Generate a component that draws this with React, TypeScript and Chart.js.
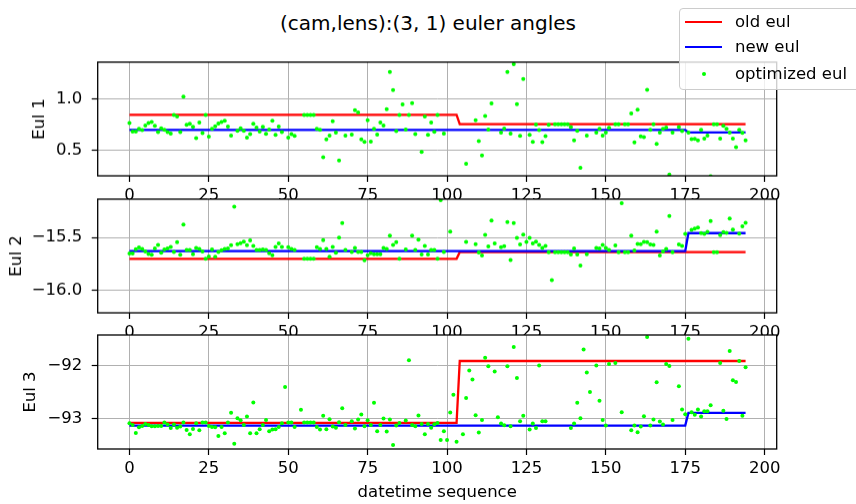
import React, { useEffect, useRef } from 'react';
import { Chart, registerables } from 'chart.js';
Chart.register(...registerables);

const FONT = 'DejaVu Sans';
const TICK_SIZE = 16.5;

const X_TICKS = [0, 25, 50, 75, 100, 125, 150, 175, 200];
const X_MIN = -10;
const X_MAX = 203.8;

// old / new euler step lines (breakpoints)
const OLD1_X = [0, 103, 104, 194];
const OLD1_Y = [0.845, 0.845, 0.755, 0.755];
const NEW1_X = [0, 175, 176, 194];
const NEW1_Y = [0.70, 0.70, 0.674, 0.674];
const OLD2_X = [0, 103, 104, 194];
const OLD2_Y = [-15.701, -15.701, -15.638, -15.638];
const NEW2_X = [0, 175, 176, 194];
const NEW2_Y = [-15.628, -15.628, -15.458, -15.458];
const OLD3_X = [0, 103, 104, 194];
const OLD3_Y = [-93.088, -93.088, -91.92, -91.92];
const NEW3_X = [0, 175, 176, 194];
const NEW3_Y = [-93.138, -93.138, -92.90, -92.90];

// optimized euler angles, index 0..194 (null = not visible in the picture)
const OPT1 = [
  0.765, 0.684, 0.684, 0.71, 0.697, 0.742, 0.765, 0.775, 0.74, 0.678,
  0.716, 0.70, 0.678, 0.665, 0.845, 0.829, 0.678, 1.022, 0.748, 0.758,
  0.729, 0.62, 0.771, 0.668, 0.845, 0.635, 0.71, 0.735, 0.761, 0.775,
  0.787, 0.732, 0.645, null, 0.69, 0.716, 0.69, 0.626, 0.658, 0.758,
  0.723, 0.684, 0.729, 0.661, 0.703, 0.787, 0.652, 0.732, 0.678, null,
  0.626, 0.658, 0.642, null, null, 0.845, 0.845, 0.845, 0.845, 0.71,
  0.70, 0.436, 0.607, 0.645, 0.784, 0.674, 0.403, null, 0.645, null,
  0.655, 0.89, 0.868, 0.607, 0.584, 0.794, 0.587, 0.71, 0.655, 0.771,
  0.742, 0.90, 1.261, 1.084, 0.687, 0.845, 0.945, 0.703, 0.845, 0.958,
  0.658, null, 0.487, 0.829, 0.652, 0.771, 0.681, 0.845, null, 0.665,
  null, null, null, null, null, null, 0.371, null, null, 0.794,
  0.59, 0.452, 0.835, 0.703, 0.955, null, null, 0.674, 0.713, 1.261,
  0.665, 1.336, 0.948, 0.642, 1.193, null, 0.652, 0.584, 0.752, 0.697,
  0.58, 0.639, 0.748, null, 0.755, 0.755, 0.755, 0.755, 0.755, 0.726,
  0.597, 0.69, 0.333, null, 0.645, null, null, 0.674, 0.71, 0.645,
  0.674, 0.72, null, 0.755, 0.755, null, 0.755, 0.755, 0.858, 0.578,
  0.894, 0.636, 0.629, 1.087, 0.70, 0.755, 0.565, 0.674, 0.71, 0.723,
  0.268, 0.674, null, 0.726, 0.687, null, 0.674, 0.61, 0.613, 0.597,
  0.70, 0.616, 0.645, 0.249, 0.755, 0.755, 0.616, 0.739, 0.71, 0.674,
  0.616, 0.533, 0.70, 0.671, 0.597,
];

const OPT2 = [
  -15.651, -15.651, -15.61, -15.594, -15.607, -15.632, -15.654, -15.663, -15.604, -15.569,
  -15.644, -15.613, -15.604, -15.588, -15.635, -15.544, -15.663, -15.377, -15.616, -15.616,
  -15.657, -15.597, -15.607, -15.632, -15.701, -15.679, -15.613, -15.682, -15.635, -15.619,
  -15.607, -15.604, -15.572, -15.208, -15.563, -15.553, -15.538, -15.572, -15.528, -15.579,
  -15.616, -15.616, -15.613, -15.616, -15.648, -15.666, -15.588, -15.556, -15.588, null,
  -15.591, -15.607, -15.616, null, null, -15.701, -15.701, -15.701, -15.701, -15.591,
  -15.607, -15.525, -15.607, -15.682, -15.588, -15.644, -15.50, -15.364, -15.616, null,
  -15.635, -15.597, -15.635, -15.635, -15.714, -15.666, -15.648, -15.657, -15.657, -15.657,
  -15.597, -15.607, -15.481, -15.569, -15.544, -15.701, null, -15.613, null, -15.481,
  -15.616, -15.519, -15.66, -15.579, -15.66, -15.616, -15.616, -15.701, -15.147, -15.635,
  null, -15.443, null, null, null, null, -15.541, null, null, -15.563,
  -15.641, -15.67, -15.475, -15.585, -15.34, -15.556, null, -15.591, -15.582, -15.353,
  -15.711, -15.364, -15.503, -15.566, -15.472, -15.541, -15.503, -15.556, -15.538, -15.569,
  -15.597, -15.579, -15.638, -15.902, -15.638, -15.638, -15.638, -15.638, -15.638, -15.66,
  -15.604, -15.66, -15.764, null, -15.657, null, null, -15.597, -15.604, -15.569,
  -15.597, -15.616, null, -15.575, -15.638, -15.175, -15.638, -15.638, -15.481, -15.622,
  -15.56, -15.563, -15.541, -15.544, -15.566, -15.569, -15.443, -15.67, -15.632, -15.607,
  -15.298, -15.638, null, -15.566, -15.579, -15.465, null, -15.427, -15.415, -15.405,
  -15.459, -15.465, -15.446, -15.345, -15.638, -15.638, -15.478, -15.449, -15.456, -15.321,
  -15.424, null, -15.462, -15.393, -15.361,
];

const OPT3 = [
  -93.094, -93.126, -93.277, -93.17, -93.145, -93.107, -93.126, -93.151, -93.151, -93.145,
  -93.145, -93.082, -93.12, -93.183, -93.12, -93.177, -93.157, -93.082, -93.221, -93.303,
  -93.202, -93.094, -93.227, -93.082, -93.082, -93.145, -93.164, -93.17, -93.334, -93.164,
  -93.283, -93.082, -92.898, -93.48, -93.0, -93.038, -93.126, -92.968, -93.283, -92.702,
  -93.283, -93.208, -93.126, -93.032, -93.246, -93.214, -93.208, -93.164, -93.094, -92.411,
  -93.082, -93.082, -93.164, null, -92.841, -93.082, -93.082, -93.082, -93.082, -93.164,
  -93.214, -92.955, -93.208, -93.019, -93.157, -93.177, -93.075, -92.81, -93.126, null,
  -93.057, -93.195, -93.025, -92.93, -93.151, -93.038, -93.126, -92.708, -93.246, -93.126,
  -93.006, -93.252, -93.025, -93.505, -93.138, -93.088, null, -93.044, -91.905, -93.126,
  -93.151, -92.949, -93.107, -93.303, -93.107, -93.177, -93.113, -93.088, -93.41, -93.246,
  -93.41, -92.892, -92.556, -93.442, null, -93.303, -92.62, -92.101, -92.271, -92.943,
  -93.27, -93.032, -91.861, -92.019, null, -92.12, -92.981, -93.101, -93.132, -92.019,
  -93.151, -91.658, -92.24, -93.057, -92.955, null, -93.214, -93.101, -93.183, -92.006,
  -93.057, -93.057, null, null, null, null, null, null, null, -93.183,
  -93.101, -92.708, -93.0, -91.702, -92.139, -92.506, null, -92.006, -92.67, -93.032,
  -93.138, -91.975, null, -91.956, null, -92.885, null, null, -93.227, -93.138,
  -93.265, -93.157, -92.961, -91.469, -93.138, -93.025, -92.323, -93.063, -93.12, -91.975,
  -92.013, -93.032, null, -92.398, -92.835, -92.924, -91.50, -92.885, -92.936, -92.835,
  -92.968, -92.866, -92.866, -92.753, null, null, -91.956, -92.86, -93.013, -91.734,
  -92.284, -92.316, -91.918, -92.955, -92.038,
];

const Y1_TICKS = [0.5, 1.0];
const Y2_TICKS = [-16.0, -15.5];
const Y3_TICKS = [-93, -92];

const AXES_LEFT = 97.7;
const AXES_RIGHT = 776.7;
const CANVAS_W = 800;
const PAD_T = 20;

const boxPlugin = {
  id: 'axbox',
  beforeDraw(chart: any) {
    const { ctx, chartArea: a } = chart;
    ctx.save();
    ctx.fillStyle = '#ffffff';
    ctx.fillRect(a.left, a.top, a.right - a.left, a.bottom - a.top);
    ctx.restore();
  },
  afterDatasetsDraw(chart: any) {
    const { ctx, chartArea: a } = chart;
    ctx.save();
    ctx.strokeStyle = '#000000';
    ctx.lineWidth = 1.3;
    ctx.strokeRect(a.left, a.top, a.right - a.left, a.bottom - a.top);
    ctx.restore();
  },
};

type PanelProps = {
  opt: (number | null)[];
  oldX: number[];
  oldY: number[];
  newX: number[];
  newY: number[];
  yMin: number;
  yMax: number;
  yTicks: number[];
  yDec: number;
  yLabel: string;
  yLabelPad: number;
  axTop: number;
  axH: number;
  xAxisH: number;
  xTitle?: string;
};

function fmt(v: number, dec: number) {
  const s = Math.abs(v).toFixed(dec);
  return v < 0 ? '\u2212' + s : s;
}

function Panel(p: PanelProps) {
  const ref = useRef<HTMLCanvasElement | null>(null);
  const H = PAD_T + p.axH + p.xAxisH;
  useEffect(() => {
    if (!ref.current) return;
    const tickFont = { family: FONT, size: TICK_SIZE };
    const chart = new Chart(ref.current, {
      type: 'line',
      data: {
        datasets: [
          {
            label: 'optimized eul',
            data: p.opt.map((y, i) => ({ x: i, y })),
            showLine: false,
            pointRadius: 2.0,
            pointBackgroundColor: '#00ff00',
            pointBorderWidth: 0,
            borderColor: '#00ff00',
            order: 0,
          },
          {
            label: 'new eul',
            data: p.newX.map((x, i) => ({ x, y: p.newY[i] })),
            borderColor: '#0000ff',
            borderWidth: 2.3,
            pointRadius: 0,
            tension: 0,
            order: 1,
          },
          {
            label: 'old eul',
            data: p.oldX.map((x, i) => ({ x, y: p.oldY[i] })),
            borderColor: '#ff0000',
            borderWidth: 2.3,
            pointRadius: 0,
            tension: 0,
            order: 2,
          },
        ],
      } as any,
      options: {
        responsive: false,
        animation: false,
        events: [],
        layout: { padding: { top: PAD_T, right: CANVAS_W - AXES_RIGHT, left: 0, bottom: 0 } },
        plugins: { legend: { display: false }, tooltip: { enabled: false } },
        scales: {
          x: {
            type: 'linear',
            min: X_MIN,
            max: X_MAX,
            afterBuildTicks: (s: any) => {
              s.ticks = X_TICKS.map((v) => ({ value: v }));
            },
            afterFit: (s: any) => {
              s.height = p.xAxisH;
            },
            grid: { color: '#b0b0b0', lineWidth: 1, tickColor: '#000', tickLength: 6, tickWidth: 1.2, drawTicks: true },
            border: { display: false },
            ticks: {
              color: '#000',
              font: tickFont,
              padding: 3.6,
              maxRotation: 0,
              autoSkip: false,
              callback: (v: any) => String(v),
            },
            title: p.xTitle
              ? { display: true, text: p.xTitle, color: '#000', font: tickFont, padding: { top: 0, bottom: 1 } }
              : { display: false },
          },
          y: {
            type: 'linear',
            min: p.yMin,
            max: p.yMax,
            afterBuildTicks: (s: any) => {
              s.ticks = p.yTicks.map((v) => ({ value: v }));
            },
            afterFit: (s: any) => {
              s.width = AXES_LEFT;
            },
            grid: { color: '#b0b0b0', lineWidth: 1, tickColor: '#000', tickLength: 6, tickWidth: 1.2, drawTicks: true },
            border: { display: false },
            ticks: {
              color: '#000',
              font: tickFont,
              padding: 9.5,
              autoSkip: false,
              callback: (v: any) => fmt(Number(v), p.yDec),
            },
            title: { display: true, text: p.yLabel, color: '#000', font: tickFont, padding: { top: p.yLabelPad, bottom: 0 } },
          },
        },
      } as any,
      plugins: [boxPlugin],
    });
    return () => chart.destroy();
  }, []);
  return (
    <canvas
      ref={ref}
      width={CANVAS_W}
      height={H}
      style={{ position: 'absolute', left: 0, top: p.axTop - PAD_T, width: CANVAS_W, height: H }}
    />
  );
}

const legendText: React.CSSProperties = {
  position: 'absolute',
  left: 735,
  fontFamily: FONT,
  fontSize: TICK_SIZE,
  lineHeight: '20px',
  color: '#000',
  whiteSpace: 'nowrap',
};

export default function App() {
  return (
    <div
      style={{
        position: 'absolute',
        left: 0,
        top: 0,
        width: 856,
        height: 504,
        overflow: 'hidden',
        background: '#fff',
      }}
    >
      <Panel opt={OPT1} oldX={OLD1_X} oldY={OLD1_Y} newX={NEW1_X} newY={NEW1_Y}
        yMin={0.255} yMax={1.355} yTicks={Y1_TICKS} yDec={1} yLabel="Eul 1" yLabelPad={30}
        axTop={62.3} axH={113.7} xAxisH={30} />
      <Panel opt={OPT2} oldX={OLD2_X} oldY={OLD2_Y} newX={NEW2_X} newY={NEW2_Y}
        yMin={-16.21} yMax={-15.138} yTicks={Y2_TICKS} yDec={1} yLabel="Eul 2" yLabelPad={7}
        axTop={199.3} axH={113.4} xAxisH={30} />
      <Panel opt={OPT3} oldX={OLD3_X} oldY={OLD3_Y} newX={NEW3_X} newY={NEW3_Y}
        yMin={-93.58} yMax={-91.43} yTicks={Y3_TICKS} yDec={0} yLabel="Eul 3" yLabelPad={21}
        axTop={335} axH={114} xAxisH={55} xTitle="datetime sequence" />
      <div
        style={{
          position: 'absolute',
          left: 0,
          top: 11,
          width: 856,
          textAlign: 'center',
          fontFamily: FONT,
          fontSize: 20,
          lineHeight: '24px',
          color: '#000',
        }}
      >
        (cam,lens):(3, 1) euler angles
      </div>
      <div
        style={{
          position: 'absolute',
          left: 679,
          top: 8,
          width: 200,
          height: 80,
          border: '1px solid #cccccc',
          borderRadius: 4,
          background: 'rgba(255,255,255,0.8)',
        }}
      />
      <div style={{ position: 'absolute', left: 685, top: 21, width: 37, height: 2.3, background: '#ff0000' }} />
      <div style={{ position: 'absolute', left: 685, top: 46.2, width: 37, height: 2.3, background: '#0000ff' }} />
      <div style={{ position: 'absolute', left: 701.7, top: 72.3, width: 4, height: 4, borderRadius: '50%', background: '#00ff00' }} />
      <div style={{ ...legendText, top: 12 }}>old eul</div>
      <div style={{ ...legendText, top: 37.3 }}>new eul</div>
      <div style={{ ...legendText, top: 64.3 }}>optimized eul</div>
    </div>
  );
}
